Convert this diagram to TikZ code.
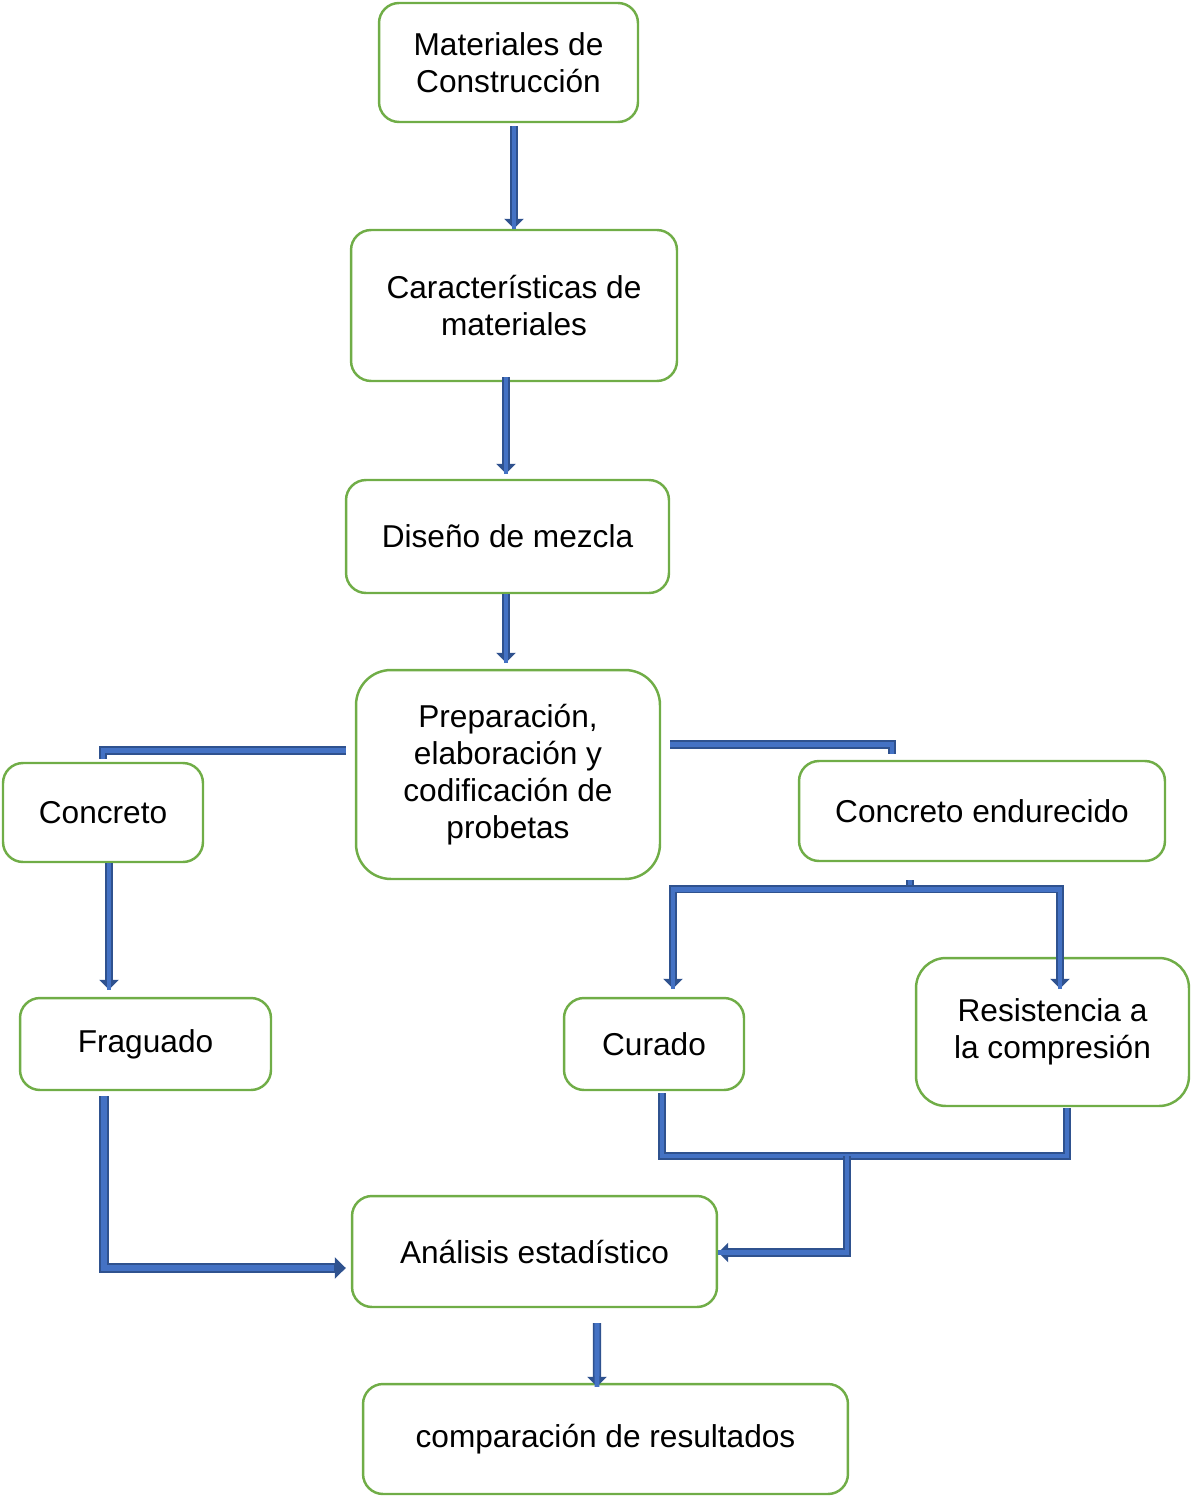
\documentclass[tikz,border=0pt]{standalone}
\usepackage{fontspec}
\setmainfont{Liberation Sans}
\usetikzlibrary{arrows.meta,calc}

\definecolor{boxgreen}{HTML}{70AD47}
\definecolor{linkblue}{HTML}{4472C4}
\definecolor{linkdark}{HTML}{2F528F}

\tikzset{
  stagebox/.style={draw=boxgreen, line width=1.4pt, rounded corners=0.4cm,
    align=center, inner sep=0pt, font=\fontsize{18}{21}\selectfont},
  flow/.style={draw=linkdark, line width=4.6pt, line join=miter,
    postaction={draw=linkblue, line width=2.6pt, arrows=-}},
  flowarrow/.style={flow, -{Triangle[length=0.2cm, width=0.38cm]},
    postaction={draw=linkblue, line width=2.6pt, arrows=-, shorten >=0.22cm}},
  wideflow/.style={draw=linkdark, line width=5.8pt, line join=miter,
    -{Triangle[length=0.22cm, width=0.42cm]},
    postaction={draw=linkblue, line width=3.6pt, arrows=-, shorten >=0.24cm}}
}

\begin{document}
\begin{tikzpicture}[x=0.02cm, y=-0.02cm]
  \useasboundingbox (0,0) rectangle (1191,1496);

  \node[stagebox, minimum width=5.18cm, minimum height=2.38cm] (mat) at (508.5,62.5) {Materiales de\\Construcción};
  \node[stagebox, minimum width=6.52cm, minimum height=3.02cm] (car) at (514,305.5) {Características de\\materiales};
  \node[stagebox, minimum width=6.46cm, minimum height=2.26cm] (dis) at (507.5,536.5) {Diseño de mezcla};
  \node[stagebox, rounded corners=0.7cm, minimum width=6.08cm, minimum height=4.18cm] (pre) at (508,774.5) {Preparación,\\elaboración y\\codificación de\\probetas};
  \node[stagebox, minimum width=4.00cm, minimum height=1.98cm] (con) at (103,812.5) {Concreto};
  \node[stagebox, minimum width=7.32cm, minimum height=2.00cm] (end) at (982,811) {Concreto endurecido};
  \node[stagebox, minimum width=5.02cm, minimum height=1.84cm] (fra) at (145.5,1044) {Fraguado};
  \node[stagebox, minimum width=3.60cm, minimum height=1.84cm] (cur) at (654,1044) {Curado};
  \node[stagebox, rounded corners=0.6cm, minimum width=5.46cm, minimum height=2.96cm] (res) at (1052.5,1032) {Resistencia a\\la compresión};
  \node[stagebox, minimum width=7.30cm, minimum height=2.22cm] (ana) at (534.5,1251.5) {Análisis estadístico};
  \node[stagebox, minimum width=9.70cm, minimum height=2.20cm] (com) at (605.5,1439) {comparación de resultados};

  % main line
  \draw[flowarrow] ($(mat.south -| car.north)+(0,3)$) -- (car.north);
  \draw[flowarrow] ($(car.south)+(-8,-5)$) -- ($(dis.north)+(-1.5,-5)$);
  \draw[flowarrow] ($(dis.south)+(-1.5,0)$) -- ($(pre.north)+(-2,-6)$);

  % split of the specimens
  \draw[flow] ($(pre.west)+(-9,-24)$) -| ($(con.north)+(0,-3)$);
  \draw[flow] ($(pre.east)+(9,-30)$) -| ($(end.north)+(-90,-6)$);
  \draw[flowarrow] ($(con.south)+(6,0)$) -- ($(con.south |- fra.north)+(6,-7)$);

  \coordinate (split) at ($(end.south)+(-72,27)$);
  \draw[flow] ($(end.south)+(-72,18)$) -- (split);
  \draw[flowarrow] (split) -| ($(cur.north)+(19,-8)$);
  \draw[flowarrow] (split) -| ($(res.north)+(7.5,32)$);

  % towards the analysis
  \draw[wideflow] ($(fra.south)+(-41.5,5)$) |- ($(ana.west)+(-5,16.5)$);
  \coordinate (join) at (847,1156);
  \draw[flow] ($(cur.south)+(8,2)$) |- (join) -| ($(res.south)+(14.5,1)$);
  \draw[flowarrow] (join) |- ($(ana.east)+(0,1)$);
  \draw[flowarrow] ($(ana.south)+(62.5,15)$) -- ($(com.north)+(-8.5,4)$);
\end{tikzpicture}
\end{document}
